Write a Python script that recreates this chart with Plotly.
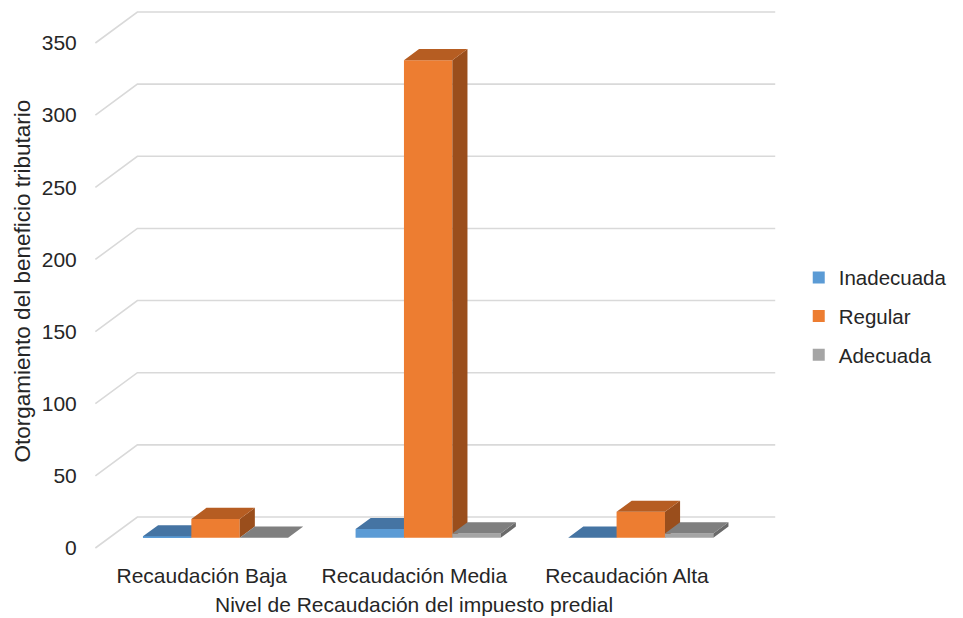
import plotly.graph_objects as go

# ---------------- data ----------------
categories = ["Recaudación Baja", "Recaudación Media", "Recaudación Alta"]
series_names = ["Inadecuada", "Regular", "Adecuada"]
inadecuada = [1, 6, 0]
regular = [13, 331, 18]
adecuada = [0, 3, 3]
y_ticks = [0, 50, 100, 150, 200, 250, 300, 350]
x_title = "Nivel de Recaudación del impuesto predial"
y_title = "Otorgamiento del beneficio tributario"

# ---------------- style ----------------
front_colors = ["#5B9BD5", "#ED7D31", "#A5A5A5"]
top_colors = ["#4574A3", "#B65D22", "#7F7F7F"]
side_colors = ["#3B6590", "#9A4E1C", "#6A6A6A"]
grid_color = "#D9D9D9"
text_color = "#262626"
FONT = "Liberation Sans, Arial, sans-serif"

# oblique 3D projection (in data units)
PX_PER_X = 212.67
PX_PER_Y = 1.443
DXU = 42 / PX_PER_X          # full depth shift in x units
DYU = 31 / PX_PER_Y          # full depth shift in y units
F0, F1 = 0.33, 0.69          # bar front/back depth fractions
W = 48.4 / PX_PER_X          # bar width (x units)

X_RANGE = [-0.53, 2.72]
Y_RANGE = [-2.77, 374.25]


def P(x, d, v):
    return x + d * DXU, v + d * DYU


fig = go.Figure()

# gridlines on back wall + side wall diagonals
gx, gy = [], []
for t in y_ticks:
    a = P(-0.5, 0, t)
    b = P(-0.5, 1, t)
    c = P(2.5, 1, t)
    gx += [a[0], b[0], c[0], None]
    gy += [a[1], b[1], c[1], None]
fig.add_trace(go.Scatter(x=gx, y=gy, mode="lines", line=dict(color=grid_color, width=1.6),
                         hoverinfo="skip", showlegend=False, xaxis="x", yaxis="y"))

all_series = [inadecuada, regular, adecuada]
axes = [("x", "y"), ("x2", "y2"), ("x3", "y3")]
for k, (name, vals) in enumerate(zip(series_names, all_series)):
    xa, ya = axes[k]
    offset = (k - 1) * W
    centers = [i + offset for i in range(len(categories))]
    # front faces via bars
    fig.add_trace(go.Bar(
        x=[c + F0 * DXU for c in centers], y=vals, base=[F0 * DYU] * len(vals),
        width=W, name=name, marker=dict(color=front_colors[k], line=dict(width=0)),
        legendgroup=name, xaxis=xa, yaxis=ya, hovertemplate=name + ": %{y}<extra></extra>"))
    # top and side faces
    tx, ty, sx, sy = [], [], [], []
    for c, v in zip(centers, vals):
        xl, xr = c - W / 2, c + W / 2
        pts = [P(xl, F0, v), P(xr, F0, v), P(xr, F1, v), P(xl, F1, v), P(xl, F0, v)]
        tx += [p[0] for p in pts] + [None]
        ty += [p[1] for p in pts] + [None]
        pts = [P(xr, F0, 0), P(xr, F1, 0), P(xr, F1, v), P(xr, F0, v), P(xr, F0, 0)]
        sx += [p[0] for p in pts] + [None]
        sy += [p[1] for p in pts] + [None]
    fig.add_trace(go.Scatter(x=sx, y=sy, mode="lines", fill="toself", fillcolor=side_colors[k],
                             line=dict(width=0, color=side_colors[k]), hoverinfo="skip",
                             showlegend=False, xaxis=xa, yaxis=ya))
    fig.add_trace(go.Scatter(x=tx, y=ty, mode="lines", fill="toself", fillcolor=top_colors[k],
                             line=dict(width=0, color=top_colors[k]), hoverinfo="skip",
                             showlegend=False, xaxis=xa, yaxis=ya))

hidden = dict(range=X_RANGE, showgrid=False, zeroline=False, showticklabels=False, showline=False)
hiddeny = dict(range=Y_RANGE, showgrid=False, zeroline=False, showticklabels=False, showline=False)

# the page body adds an 8px margin, so the figure is 8px smaller and offset
fig.update_layout(
    width=955, height=610,
    margin=dict(l=80.6, r=183.2, t=0, b=66, autoexpand=False),
    paper_bgcolor="white", plot_bgcolor="white",
    font=dict(family=FONT, size=21, color=text_color),
    barmode="overlay",
    xaxis=dict(range=X_RANGE, tickvals=list(range(len(categories))), ticktext=categories,
               showgrid=False, zeroline=False, showline=False, ticks="outside", ticklen=5,
               tickcolor="rgba(0,0,0,0)", tickfont=dict(size=21, color=text_color), fixedrange=True),
    yaxis=dict(range=Y_RANGE, tickvals=y_ticks, showgrid=False, zeroline=False, showline=False,
               ticks="outside", ticklen=7, tickcolor="rgba(0,0,0,0)",
               tickfont=dict(size=21, color=text_color), fixedrange=True),
    xaxis2=dict(overlaying="x", **hidden),
    yaxis2=dict(overlaying="y", anchor="x2", **hiddeny),
    xaxis3=dict(overlaying="x", **hidden),
    yaxis3=dict(overlaying="y", anchor="x3", **hiddeny),
    legend=dict(xref="container", yref="container", x=0.828, y=0.495, xanchor="left", yanchor="middle",
                font=dict(size=20.5, color=text_color), traceorder="grouped", tracegroupgap=9,
                bgcolor="rgba(0,0,0,0)"),
    annotations=[
        dict(text=x_title, xref="x", x=1.0, yref="paper", y=-0.0974, xanchor="center", yanchor="middle",
             showarrow=False, font=dict(size=21, color=text_color)),
        dict(text=y_title, xref="paper", x=-0.0964, yref="y", y=185, xanchor="center", yanchor="middle",
             textangle=-90, showarrow=False, font=dict(size=22.5, color=text_color)),
    ],
)

fig.write_html("out.html")
